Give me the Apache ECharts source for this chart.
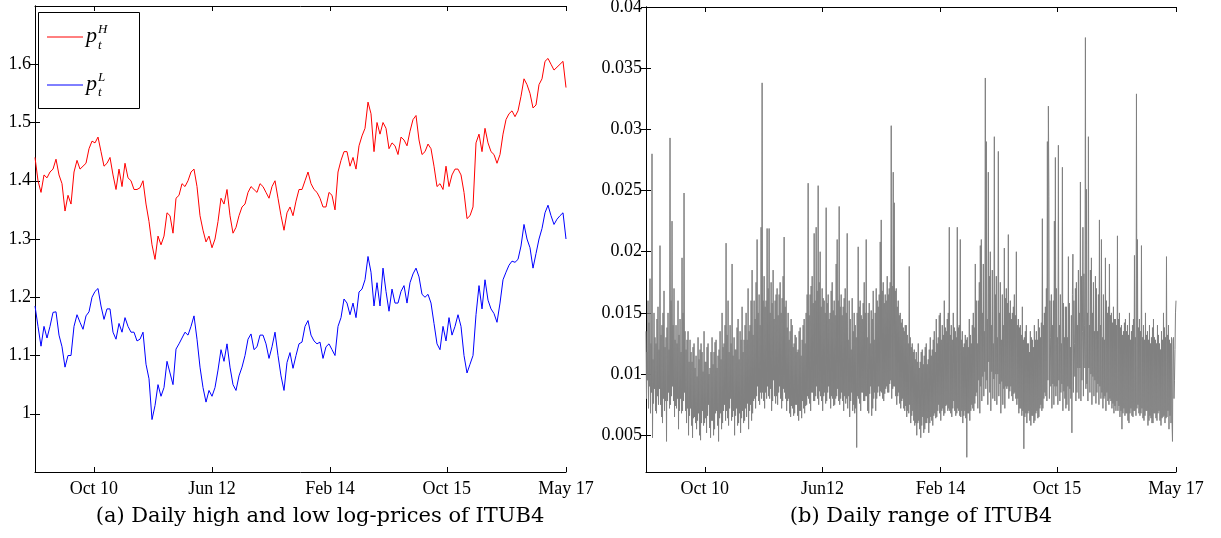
<!DOCTYPE html>
<html>
<head>
<meta charset="utf-8">
<script src="https://cdn.jsdelivr.net/npm/echarts@6/dist/echarts.min.js"></script>
<style>
html,body{margin:0;padding:0;background:#fff;}
#c{width:1221px;height:538px;}
</style>
</head>
<body>
<div id="c"></div>
<script>
// ---- axis definitions ----
const totalDays = 1840;                       // trading days Jan 2010 - May 2017
const tickDays = [204, 613, 1022, 1427, 1840];
const xLabelsA = ['Oct 10', 'Jun 12', 'Feb 14', 'Oct 15', 'May 17'];
const xLabelsB = ['Oct 10', 'Jun12', 'Feb 14', 'Oct 15', 'May 17'];
const yTicksA = [1, 1.1, 1.2, 1.3, 1.4, 1.5, 1.6];
const yLabelsA = ['1', '1.1', '1.2', '1.3', '1.4', '1.5', '1.6'];
const yTicksB = [0.005, 0.01, 0.015, 0.02, 0.025, 0.03, 0.035, 0.04];
const yLabelsB = ['0.005', '0.01', '0.015', '0.02', '0.025', '0.03', '0.035', '0.04'];

// ---- (a) daily high / low log-prices (sampled) ----
const highLogPrice = [
1.44,1.40,1.38,1.41,1.405,1.415,1.42,1.437,1.41,1.395,
1.348,1.375,1.36,1.415,1.435,1.42,1.425,1.43,1.455,1.468,
1.465,1.475,1.45,1.425,1.43,1.44,1.41,1.385,1.42,1.39,
1.43,1.405,1.40,1.385,1.385,1.388,1.40,1.36,1.33,1.29,
1.265,1.305,1.29,1.305,1.345,1.34,1.31,1.37,1.375,1.395,
1.39,1.40,1.415,1.42,1.39,1.34,1.315,1.295,1.305,1.285,
1.30,1.33,1.37,1.36,1.385,1.34,1.31,1.32,1.34,1.355,
1.36,1.38,1.39,1.385,1.38,1.395,1.39,1.38,1.37,1.39,
1.40,1.37,1.34,1.315,1.345,1.355,1.34,1.365,1.385,1.385,
1.40,1.415,1.395,1.385,1.38,1.37,1.355,1.355,1.38,1.375,
1.35,1.415,1.435,1.45,1.45,1.425,1.44,1.42,1.46,1.477,
1.49,1.535,1.515,1.45,1.50,1.48,1.50,1.49,1.455,1.465,
1.46,1.445,1.475,1.47,1.46,1.485,1.505,1.512,1.47,1.445,
1.45,1.463,1.455,1.425,1.39,1.395,1.385,1.425,1.39,1.41,
1.42,1.42,1.41,1.38,1.335,1.34,1.355,1.465,1.48,1.45,
1.49,1.465,1.45,1.445,1.43,1.445,1.48,1.505,1.515,1.52,
1.51,1.52,1.545,1.575,1.565,1.55,1.525,1.53,1.565,1.575,
1.605,1.61,1.60,1.59,1.595,1.60,1.605,1.56
];
const lowLogPrice = [
1.185,1.15,1.116,1.15,1.13,1.15,1.174,1.175,1.135,1.115,
1.08,1.10,1.10,1.15,1.17,1.157,1.145,1.168,1.175,1.20,
1.21,1.215,1.185,1.162,1.18,1.18,1.14,1.128,1.155,1.14,
1.165,1.15,1.14,1.14,1.125,1.128,1.14,1.085,1.06,0.99,
1.014,1.05,1.03,1.045,1.09,1.07,1.05,1.111,1.12,1.13,
1.14,1.135,1.15,1.168,1.128,1.08,1.045,1.02,1.04,1.03,
1.045,1.075,1.11,1.09,1.12,1.08,1.05,1.04,1.065,1.08,
1.10,1.128,1.137,1.11,1.115,1.135,1.135,1.12,1.095,1.115,
1.14,1.10,1.065,1.04,1.088,1.105,1.078,1.10,1.12,1.123,
1.15,1.16,1.135,1.125,1.12,1.123,1.095,1.115,1.12,1.11,
1.10,1.15,1.165,1.197,1.19,1.17,1.19,1.165,1.209,1.214,
1.23,1.27,1.243,1.185,1.225,1.185,1.25,1.21,1.176,1.214,
1.19,1.19,1.21,1.22,1.19,1.225,1.24,1.25,1.235,1.205,
1.20,1.205,1.19,1.155,1.12,1.11,1.15,1.125,1.165,1.135,
1.15,1.17,1.15,1.10,1.07,1.085,1.10,1.17,1.22,1.18,
1.23,1.195,1.18,1.172,1.157,1.19,1.23,1.243,1.255,1.262,
1.26,1.265,1.288,1.325,1.30,1.285,1.25,1.275,1.30,1.318,
1.345,1.358,1.34,1.325,1.334,1.34,1.345,1.30
];

// ---- (b) daily range (sampled) ----
const dailyRange = [
0.0135,0.0080,0.0118,0.0095,0.0160,0.0072,0.0142,0.0090,0.0178,0.0068,0.0125,0.0085,0.0280,0.0048,0.0112,0.0076,0.0150,0.0088,0.0130,0.0070,
0.0125,0.0068,0.0145,0.0082,0.0155,0.0075,0.0120,0.0088,0.0205,0.0075,0.0132,0.0065,0.0140,0.0060,0.0150,0.0080,0.0168,0.0070,0.0122,0.0078,
0.0130,0.0045,0.0138,0.0078,0.0150,0.0085,0.0120,0.0072,0.0293,0.0075,0.0160,0.0082,0.0225,0.0090,0.0140,0.0078,0.0170,0.0065,0.0128,0.0074,
0.0140,0.0072,0.0125,0.0080,0.0160,0.0055,0.0132,0.0070,0.0145,0.0080,0.0118,0.0068,0.0195,0.0070,0.0150,0.0078,0.0248,0.0085,0.0135,0.0070,
0.0120,0.0060,0.0128,0.0072,0.0135,0.0050,0.0110,0.0066,0.0128,0.0072,0.0118,0.0058,0.0110,0.0048,0.0122,0.0064,0.0125,0.0065,0.0105,0.0060,
0.0115,0.0055,0.0098,0.0062,0.0130,0.0068,0.0112,0.0050,0.0120,0.0046,0.0125,0.0060,0.0118,0.0070,0.0102,0.0058,0.0135,0.0060,0.0110,0.0064,
0.0110,0.0052,0.0122,0.0066,0.0125,0.0075,0.0100,0.0056,0.0105,0.0048,0.0118,0.0062,0.0130,0.0062,0.0108,0.0050,0.0118,0.0055,0.0126,0.0068,
0.0128,0.0070,0.0105,0.0058,0.0115,0.0045,0.0120,0.0064,0.0135,0.0068,0.0112,0.0055,0.0150,0.0060,0.0122,0.0070,0.0125,0.0075,0.0140,0.0062,
0.0207,0.0070,0.0132,0.0064,0.0160,0.0058,0.0118,0.0072,0.0140,0.0080,0.0125,0.0062,0.0190,0.0065,0.0115,0.0070,0.0130,0.0050,0.0120,0.0066,
0.0120,0.0072,0.0138,0.0058,0.0145,0.0060,0.0112,0.0068,0.0135,0.0052,0.0128,0.0064,0.0155,0.0070,0.0118,0.0060,0.0128,0.0062,0.0140,0.0072,
0.0150,0.0065,0.0128,0.0076,0.0170,0.0055,0.0135,0.0070,0.0140,0.0075,0.0160,0.0062,0.0185,0.0068,0.0132,0.0078,0.0160,0.0080,0.0145,0.0072,
0.0175,0.0082,0.0210,0.0090,0.0150,0.0078,0.0165,0.0075,0.0140,0.0085,0.0220,0.0080,0.0338,0.0085,0.0160,0.0078,0.0180,0.0072,0.0155,0.0085,
0.0160,0.0080,0.0219,0.0090,0.0170,0.0082,0.0219,0.0080,0.0150,0.0088,0.0175,0.0070,0.0158,0.0078,0.0185,0.0095,0.0145,0.0082,0.0160,0.0076,
0.0165,0.0082,0.0170,0.0075,0.0148,0.0085,0.0165,0.0090,0.0175,0.0080,0.0150,0.0072,0.0162,0.0078,0.0180,0.0088,0.0212,0.0085,0.0155,0.0080,
0.0160,0.0070,0.0138,0.0078,0.0150,0.0080,0.0128,0.0068,0.0135,0.0065,0.0145,0.0074,0.0140,0.0072,0.0122,0.0066,0.0125,0.0068,0.0132,0.0075,
0.0130,0.0075,0.0118,0.0066,0.0120,0.0062,0.0135,0.0070,0.0138,0.0070,0.0115,0.0064,0.0128,0.0078,0.0140,0.0072,0.0145,0.0068,0.0125,0.0074,
0.0150,0.0075,0.0165,0.0082,0.0256,0.0080,0.0148,0.0076,0.0165,0.0070,0.0172,0.0085,0.0180,0.0085,0.0158,0.0078,0.0215,0.0078,0.0160,0.0082,
0.0220,0.0090,0.0168,0.0080,0.0254,0.0075,0.0175,0.0086,0.0200,0.0082,0.0155,0.0078,0.0170,0.0070,0.0162,0.0082,0.0160,0.0085,0.0150,0.0076,
0.0236,0.0078,0.0158,0.0085,0.0165,0.0090,0.0145,0.0080,0.0150,0.0072,0.0168,0.0082,0.0175,0.0080,0.0152,0.0074,0.0160,0.0075,0.0148,0.0080,
0.0190,0.0082,0.0210,0.0088,0.0160,0.0078,0.0237,0.0075,0.0155,0.0080,0.0165,0.0085,0.0148,0.0078,0.0155,0.0070,0.0162,0.0082,0.0170,0.0076,
0.0150,0.0080,0.0215,0.0072,0.0128,0.0082,0.0160,0.0065,0.0145,0.0078,0.0120,0.0085,0.0162,0.0070,0.0135,0.0075,0.0150,0.0068,0.0140,0.0072,
0.0130,0.0040,0.0150,0.0082,0.0204,0.0080,0.0155,0.0076,0.0160,0.0070,0.0148,0.0085,0.0145,0.0085,0.0158,0.0078,0.0175,0.0078,0.0150,0.0082,
0.0210,0.0082,0.0130,0.0070,0.0150,0.0068,0.0158,0.0084,0.0125,0.0090,0.0152,0.0066,0.0145,0.0072,0.0168,0.0080,0.0128,0.0085,0.0150,0.0070,
0.0170,0.0080,0.0160,0.0085,0.0155,0.0090,0.0165,0.0082,0.0208,0.0086,0.0226,0.0085,0.0168,0.0080,0.0175,0.0078,0.0158,0.0084,0.0165,0.0088,
0.0160,0.0090,0.0180,0.0085,0.0165,0.0085,0.0170,0.0092,0.0175,0.0095,0.0303,0.0080,0.0172,0.0088,0.0265,0.0090,0.0240,0.0090,0.0168,0.0082,
0.0170,0.0075,0.0155,0.0082,0.0160,0.0085,0.0148,0.0076,0.0150,0.0072,0.0142,0.0078,0.0145,0.0080,0.0138,0.0072,0.0135,0.0070,0.0140,0.0074,
0.0140,0.0065,0.0132,0.0070,0.0125,0.0068,0.0188,0.0075,0.0130,0.0060,0.0122,0.0066,0.0125,0.0070,0.0118,0.0062,0.0120,0.0058,0.0112,0.0060,
0.0118,0.0050,0.0110,0.0060,0.0125,0.0062,0.0105,0.0055,0.0110,0.0048,0.0118,0.0058,0.0120,0.0065,0.0108,0.0052,0.0115,0.0055,0.0122,0.0060,
0.0125,0.0060,0.0108,0.0064,0.0112,0.0052,0.0120,0.0060,0.0130,0.0065,0.0115,0.0062,0.0120,0.0058,0.0128,0.0066,0.0135,0.0068,0.0118,0.0064,
0.0145,0.0065,0.0125,0.0070,0.0130,0.0075,0.0148,0.0068,0.0150,0.0062,0.0128,0.0070,0.0140,0.0072,0.0132,0.0066,0.0160,0.0068,0.0138,0.0074,
0.0135,0.0075,0.0145,0.0070,0.0150,0.0072,0.0220,0.0070,0.0132,0.0068,0.0140,0.0065,0.0128,0.0072,0.0150,0.0078,0.0138,0.0070,0.0135,0.0066,
0.0130,0.0068,0.0220,0.0072,0.0138,0.0070,0.0140,0.0066,0.0210,0.0065,0.0128,0.0070,0.0135,0.0060,0.0122,0.0066,0.0125,0.0070,0.0132,0.0064,
0.0128,0.0032,0.0130,0.0068,0.0122,0.0068,0.0145,0.0062,0.0132,0.0070,0.0125,0.0075,0.0140,0.0072,0.0150,0.0070,0.0138,0.0076,0.0190,0.0082,
0.0160,0.0085,0.0125,0.0072,0.0160,0.0095,0.0175,0.0068,0.0205,0.0090,0.0210,0.0078,0.0150,0.0098,0.0190,0.0082,0.0135,0.0102,0.0342,0.0088,
0.0290,0.0095,0.0145,0.0075,0.0265,0.0110,0.0180,0.0085,0.0200,0.0070,0.0140,0.0102,0.0185,0.0080,0.0125,0.0096,0.0294,0.0078,0.0165,0.0100,
0.0180,0.0075,0.0130,0.0100,0.0282,0.0082,0.0150,0.0092,0.0175,0.0068,0.0128,0.0094,0.0165,0.0075,0.0140,0.0088,0.0203,0.0072,0.0162,0.0090,
0.0170,0.0088,0.0158,0.0090,0.0214,0.0080,0.0150,0.0086,0.0160,0.0090,0.0145,0.0082,0.0150,0.0078,0.0155,0.0084,0.0165,0.0085,0.0148,0.0080,
0.0200,0.0075,0.0140,0.0080,0.0145,0.0068,0.0138,0.0072,0.0140,0.0072,0.0132,0.0066,0.0155,0.0070,0.0128,0.0039,0.0130,0.0065,0.0135,0.0068,
0.0140,0.0060,0.0125,0.0068,0.0125,0.0070,0.0118,0.0062,0.0135,0.0058,0.0130,0.0066,0.0128,0.0066,0.0122,0.0060,0.0140,0.0062,0.0128,0.0068,
0.0135,0.0070,0.0128,0.0064,0.0145,0.0065,0.0138,0.0072,0.0130,0.0075,0.0142,0.0070,0.0227,0.0072,0.0140,0.0080,0.0150,0.0085,0.0155,0.0082,
0.0170,0.0078,0.0290,0.0095,0.0319,0.0245,0.0080,0.0160,0.0130,0.0090,0.0165,0.0072,0.0140,0.0092,0.0160,0.0075,0.0225,0.0090,0.0277,0.0082,
0.0170,0.0090,0.0130,0.0075,0.0287,0.0095,0.0140,0.0078,0.0165,0.0085,0.0125,0.0092,0.0269,0.0070,0.0158,0.0086,0.0130,0.0080,0.0155,0.0072,
0.0155,0.0075,0.0130,0.0090,0.0196,0.0070,0.0158,0.0088,0.0122,0.0080,0.0148,0.0052,0.0165,0.0198,0.0085,0.0160,0.0125,0.0098,0.0170,0.0078,
0.0175,0.0085,0.0140,0.0105,0.0185,0.0080,0.0150,0.0105,0.0257,0.0078,0.0180,0.0095,0.0135,0.0220,0.0082,0.0182,0.0140,0.0105,0.0375,0.0088,
0.0251,0.0092,0.0150,0.0078,0.0294,0.0105,0.0140,0.0085,0.0185,0.0100,0.0195,0.0075,0.0150,0.0098,0.0175,0.0082,0.0135,0.0095,0.0180,0.0076,
0.0170,0.0085,0.0135,0.0092,0.0165,0.0075,0.0226,0.0090,0.0140,0.0080,0.0210,0.0085,0.0130,0.0072,0.0165,0.0080,0.0128,0.0082,0.0195,0.0070,
0.0160,0.0085,0.0150,0.0078,0.0155,0.0075,0.0190,0.0080,0.0148,0.0078,0.0150,0.0072,0.0142,0.0076,0.0155,0.0068,0.0145,0.0074,0.0145,0.0070,
0.0140,0.0078,0.0213,0.0070,0.0145,0.0074,0.0150,0.0065,0.0138,0.0070,0.0140,0.0055,0.0132,0.0068,0.0135,0.0072,0.0142,0.0066,0.0145,0.0068,
0.0135,0.0068,0.0140,0.0062,0.0132,0.0060,0.0150,0.0068,0.0128,0.0072,0.0135,0.0066,0.0140,0.0065,0.0145,0.0070,0.0197,0.0070,0.0130,0.0066,
0.0329,0.0072,0.0210,0.0075,0.0138,0.0068,0.0145,0.0066,0.0135,0.0068,0.0205,0.0072,0.0130,0.0064,0.0140,0.0062,0.0128,0.0066,0.0150,0.0070,
0.0132,0.0070,0.0135,0.0058,0.0128,0.0062,0.0140,0.0066,0.0125,0.0064,0.0130,0.0060,0.0138,0.0060,0.0145,0.0068,0.0130,0.0068,0.0128,0.0064,
0.0125,0.0062,0.0140,0.0068,0.0132,0.0070,0.0125,0.0062,0.0120,0.0058,0.0135,0.0064,0.0128,0.0065,0.0150,0.0066,0.0138,0.0060,0.0130,0.0064,
0.0196,0.0065,0.0132,0.0070,0.0140,0.0055,0.0128,0.0066,0.0125,0.0060,0.0130,0.0062,0.0045,0.0128,0.0130,0.0080,0.0095,0.0120,0.0150,0.0160
];

// ---- helpers ----
function toPairs(arr) {
  const step = totalDays / (arr.length - 1);
  return arr.map((v, i) => [i * step, v]);
}
function lookup(values, labels) {
  return function (v) {
    let best = 0;
    for (let k = 1; k < values.length; k++) if (Math.abs(values[k] - v) < Math.abs(values[best] - v)) best = k;
    return labels[best];
  };
}

const FONT = 'Liberation Serif';
const labelStyle = { color: '#000', fontFamily: FONT, fontSize: 18 };
const axisLineStyle = { show: true, lineStyle: { color: '#000', width: 1 } };

function xAxisDef(gridIndex, position, labels) {
  return {
    type: 'value', gridIndex, position, min: 0, max: totalDays,
    axisLine: axisLineStyle,
    axisTick: { show: true, inside: true, length: 5, customValues: tickDays, lineStyle: { color: '#000' } },
    axisLabel: labels ? Object.assign({ show: true, customValues: tickDays, margin: 8, showMinLabel: true, showMaxLabel: true, formatter: lookup(tickDays, labels) }, labelStyle) : { show: false },
    splitLine: { show: false }
  };
}
function yAxisDef(gridIndex, position, min, max, ticks, labels) {
  return {
    type: 'value', gridIndex, position, min, max,
    axisLine: axisLineStyle,
    axisTick: { show: true, inside: true, length: 5, customValues: ticks, lineStyle: { color: '#000' } },
    axisLabel: labels ? Object.assign({ show: true, customValues: ticks, margin: 4, showMinLabel: true, showMaxLabel: true, formatter: lookup(ticks, labels) }, labelStyle) : { show: false },
    splitLine: { show: false }
  };
}

const chart = echarts.init(document.getElementById('c'), null, { renderer: 'canvas' });
chart.setOption({
  animation: false,
  backgroundColor: '#fff',
  grid: [
    { left: 35, top: 6, width: 531, height: 466, containLabel: false, outerBoundsMode: 'none' },
    { left: 646, top: 7, width: 530, height: 465, containLabel: false, outerBoundsMode: 'none' }
  ],
  xAxis: [
    xAxisDef(0, 'bottom', xLabelsA),
    xAxisDef(0, 'top', null),
    xAxisDef(1, 'bottom', xLabelsB),
    xAxisDef(1, 'top', null)
  ],
  yAxis: [
    yAxisDef(0, 'left', 0.9, 1.7, yTicksA, yLabelsA),
    yAxisDef(0, 'right', 0.9, 1.7, yTicksA, null),
    yAxisDef(1, 'left', 0.002, 0.04, yTicksB, yLabelsB),
    yAxisDef(1, 'right', 0.002, 0.04, yTicksB, null)
  ],
  series: [
    { name: 'pH', type: 'line', xAxisIndex: 0, yAxisIndex: 0, data: toPairs(highLogPrice), showSymbol: false, symbol: 'none', lineStyle: { color: '#ff0000', width: 1 }, itemStyle: { color: '#ff0000' } },
    { name: 'pL', type: 'line', xAxisIndex: 0, yAxisIndex: 0, data: toPairs(lowLogPrice), showSymbol: false, symbol: 'none', lineStyle: { color: '#0000ff', width: 1 }, itemStyle: { color: '#0000ff' } },
    { name: 'range', type: 'line', xAxisIndex: 2, yAxisIndex: 2, data: toPairs(dailyRange), showSymbol: false, symbol: 'none', sampling: null, lineStyle: { color: '#808080', width: 1 }, itemStyle: { color: '#808080' } }
  ],
  graphic: [
    // legend box of panel (a)
    { type: 'rect', shape: { x: 38.5, y: 12.5, width: 101, height: 96 }, style: { fill: '#fff', stroke: '#000', lineWidth: 1 }, z: 100 },
    { type: 'line', shape: { x1: 47, y1: 37, x2: 83, y2: 37 }, style: { stroke: '#ff0000', lineWidth: 1 }, z: 101 },
    { type: 'text', x: 86, y: 36, style: { text: 'p', font: 'italic 22px "Liberation Serif"', fill: '#000', verticalAlign: 'middle' }, z: 101 },
    { type: 'text', x: 98, y: 30, style: { text: 'H', font: 'italic 13px "Liberation Serif"', fill: '#000', verticalAlign: 'middle' }, z: 101 },
    { type: 'text', x: 98, y: 46, style: { text: 't', font: 'italic 13px "Liberation Serif"', fill: '#000', verticalAlign: 'middle' }, z: 101 },
    { type: 'line', shape: { x1: 47, y1: 85, x2: 83, y2: 85 }, style: { stroke: '#0000ff', lineWidth: 1 }, z: 101 },
    { type: 'text', x: 86, y: 84, style: { text: 'p', font: 'italic 22px "Liberation Serif"', fill: '#000', verticalAlign: 'middle' }, z: 101 },
    { type: 'text', x: 98, y: 78, style: { text: 'L', font: 'italic 13px "Liberation Serif"', fill: '#000', verticalAlign: 'middle' }, z: 101 },
    { type: 'text', x: 98, y: 93, style: { text: 't', font: 'italic 13px "Liberation Serif"', fill: '#000', verticalAlign: 'middle' }, z: 101 },
    // captions
    { type: 'text', x: 320, y: 517, style: { text: '(a) Daily high and low log-prices of ITUB4', font: '21px "DejaVu Serif"', fill: '#000', align: 'center', verticalAlign: 'middle' } },
    { type: 'text', x: 921, y: 517, style: { text: '(b) Daily range of ITUB4', font: '21px "DejaVu Serif"', fill: '#000', align: 'center', verticalAlign: 'middle' } }
  ]
});
</script>
</body>
</html>
